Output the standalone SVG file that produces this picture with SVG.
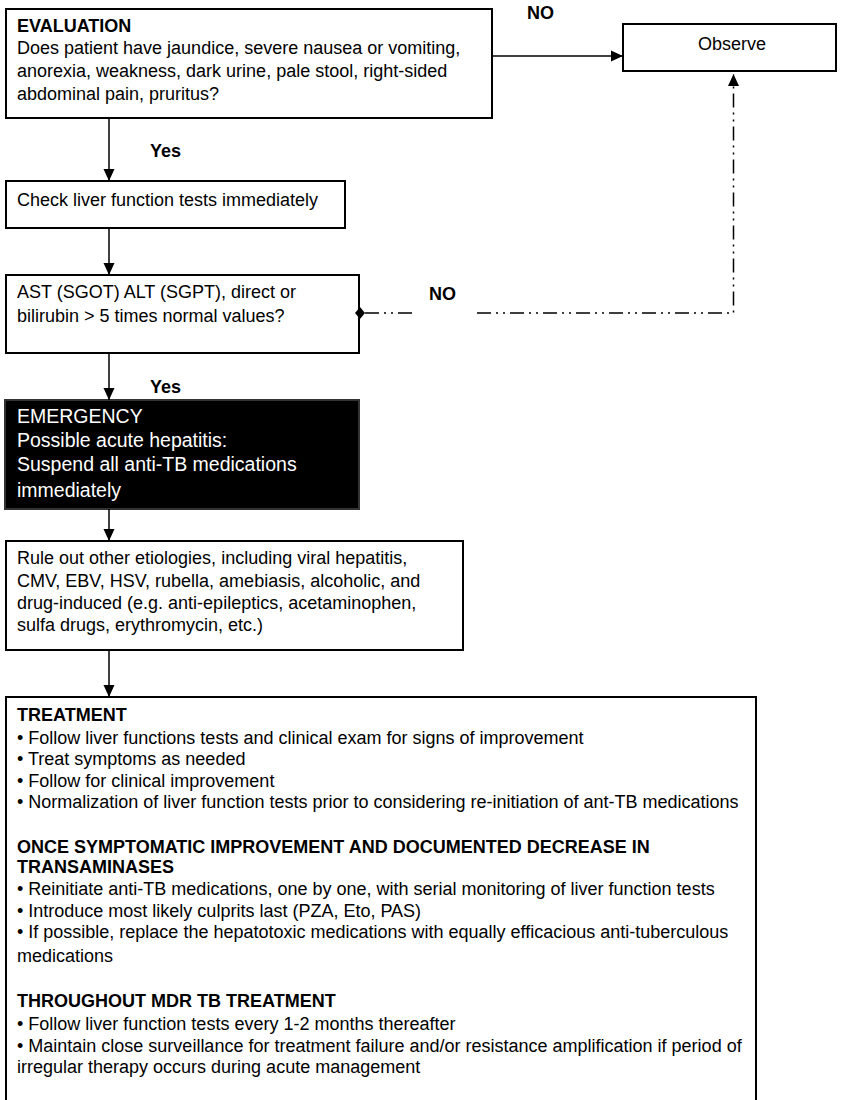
<svg xmlns="http://www.w3.org/2000/svg" width="844" height="1100" viewBox="0 0 844 1100">
  <style>
    text { font-family: "Liberation Sans", Arial, sans-serif; font-size: 18px; fill: #000; }
    .b { font-weight: bold; }
    .box { fill: #fff; stroke: #000; stroke-width: 2; }
    .dark { fill: #000; stroke: #333; stroke-width: 2; }
    .inv { fill: #fff; font-size: 19.5px; }
    .link { fill: none; stroke: #000; stroke-width: 1.5; }
    .alt { fill: none; stroke: #000; stroke-width: 1.5; stroke-dasharray: 14 5 2 5 2 5; }
  </style>
  <defs>
    <marker id="arrow" markerUnits="userSpaceOnUse" markerWidth="12" markerHeight="12" viewBox="0 0 12 12" refX="12" refY="6" orient="auto">
      <path d="M0,0.5 L12,6 L0,11.5 Z" fill="#000"/>
    </marker>
  </defs>

  <g id="evaluation">
    <rect class="box" x="6" y="9" width="486" height="109"/>
    <text class="b" x="17" y="31.5">EVALUATION</text>
    <text x="17" y="54.3">Does patient have jaundice, severe nausea or vomiting,</text>
    <text x="17" y="77">anorexia, weakness, dark urine, pale stool, right-sided</text>
    <text x="17" y="100">abdominal pain, pruritus?</text>
  </g>

  <g id="observe">
    <rect class="box" x="623" y="24" width="213" height="47"/>
    <text x="732" y="50" text-anchor="middle">Observe</text>
  </g>

  <g id="check-lft">
    <rect class="box" x="6" y="181" width="339" height="47"/>
    <text x="17" y="206">Check liver function tests immediately</text>
  </g>

  <g id="lft-threshold">
    <rect class="box" x="6" y="275" width="353" height="78"/>
    <text x="17" y="298.3">AST (SGOT) ALT (SGPT), direct or</text>
    <text x="17" y="321.7">bilirubin &gt; 5 times normal values?</text>
  </g>

  <g id="emergency">
    <rect class="dark" x="5" y="400" width="354" height="109"/>
    <text class="inv" x="17" y="423.3">EMERGENCY</text>
    <text class="inv" x="17" y="447.3">Possible acute hepatitis:</text>
    <text class="inv" x="17" y="470.7">Suspend all anti-TB medications</text>
    <text class="inv" x="17" y="496.5">immediately</text>
  </g>

  <g id="rule-out">
    <rect class="box" x="6" y="541" width="457" height="109"/>
    <text x="17" y="564">Rule out other etiologies, including viral hepatitis,</text>
    <text x="17" y="586.7">CMV, EBV, HSV, rubella, amebiasis, alcoholic, and</text>
    <text x="17" y="608.5">drug-induced (e.g. anti-epileptics, acetaminophen,</text>
    <text x="17" y="630.7">sulfa drugs, erythromycin, etc.)</text>
  </g>

  <g id="treatment">
    <rect class="box" x="6" y="697" width="750" height="420"/>
    <text class="b" x="17" y="720.7">TREATMENT</text>
    <text x="17" y="744">• Follow liver functions tests and clinical exam for signs of improvement</text>
    <text x="17" y="764.5">• Treat symptoms as needed</text>
    <text x="17" y="786.7">• Follow for clinical improvement</text>
    <text x="17" y="808.3">• Normalization of liver function tests prior to considering re-initiation of ant-TB medications</text>
    <text class="b" x="17" y="853.3">ONCE SYMPTOMATIC IMPROVEMENT AND DOCUMENTED DECREASE IN</text>
    <text class="b" x="17" y="873.3">TRANSAMINASES</text>
    <text x="17" y="895">• Reinitiate anti-TB medications, one by one, with serial monitoring of liver function tests</text>
    <text x="17" y="916.7">• Introduce most likely culprits last (PZA, Eto, PAS)</text>
    <text x="17" y="938.3">• If possible, replace the hepatotoxic medications with equally efficacious anti-tuberculous</text>
    <text x="17" y="962.3">medications</text>
    <text class="b" x="17" y="1006.7">THROUGHOUT MDR TB TREATMENT</text>
    <text x="17" y="1030">• Follow liver function tests every 1-2 months thereafter</text>
    <text x="17" y="1051.7">• Maintain close surveillance for treatment failure and/or resistance amplification if period of</text>
    <text x="17" y="1073.3">irregular therapy occurs during acute management</text>
  </g>

  <!-- connectors, drawn last so the diamond sits on top of the box edge -->
  <g id="connectors">
    <line class="link" x1="492" y1="56" x2="623" y2="56" marker-end="url(#arrow)"/>
    <line class="link" x1="109" y1="118" x2="109" y2="181" marker-end="url(#arrow)"/>
    <line class="link" x1="109" y1="228" x2="109" y2="275" marker-end="url(#arrow)"/>
    <line class="link" x1="109" y1="353" x2="109" y2="400" marker-end="url(#arrow)"/>
    <line class="link" x1="109" y1="509" x2="109" y2="541" marker-end="url(#arrow)"/>
    <line class="link" x1="109" y1="650" x2="109" y2="697" marker-end="url(#arrow)"/>
    <!-- "NO" branch back to Observe, dash-dot-dot -->
    <path class="alt" d="M365,313 H417"/>
    <path class="alt" d="M477,313 H733.5 V74" marker-end="url(#arrow)"/>
    <polygon points="360,307 365,313 360,319 355,313" fill="#000"/>
    <text class="b" x="527" y="19">NO</text>
    <text class="b" x="150" y="157">Yes</text>
    <text class="b" x="429" y="300">NO</text>
    <text class="b" x="150" y="393">Yes</text>
  </g>
</svg>
